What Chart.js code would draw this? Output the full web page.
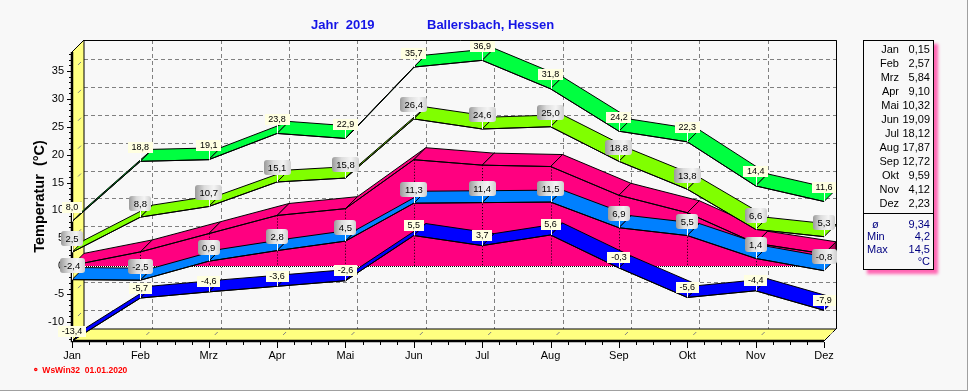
<!DOCTYPE html>
<html><head><meta charset="utf-8">
<script src="https://cdn.jsdelivr.net/npm/chart.js@4/dist/chart.umd.min.js"></script>
<style>
html,body{margin:0;padding:0;background:#f8f8f8;}
#wrap{position:relative;width:968px;height:391px;overflow:hidden;font-family:"Liberation Sans",Arial,sans-serif;}
#frame{position:absolute;left:0;top:0;width:968px;height:391px;box-sizing:border-box;border-right:1px solid #a0a0a0;border-bottom:1px solid #a0a0a0;pointer-events:none;}
canvas{position:absolute;left:0;top:0;}
.title{position:absolute;top:17px;font:bold 13px "Liberation Sans",Arial,sans-serif;color:#1414e6;white-space:pre;line-height:15px;}
#legend{position:absolute;left:863px;top:40px;width:71px;height:230px;box-sizing:border-box;border:1px solid #000;background:#f8f8f8;box-shadow:4px 4px 3px #ff66b3;font:11px "Liberation Sans",Arial,sans-serif;}
#legend .row{position:absolute;left:0;width:69px;height:14px;line-height:14px;color:#000;}
#legend .row span{position:absolute;top:0;white-space:pre;}
#legend .nrow{position:absolute;left:0;width:69px;height:12px;line-height:12px;color:#000080;}
#legend .nrow span{position:absolute;top:0;white-space:pre;}
#legend .div{position:absolute;left:0;width:69px;top:172px;border-top:1px solid #000;}
#foot{position:absolute;left:32px;top:365px;font:bold 8.5px "Liberation Sans",Arial,sans-serif;color:#ff0000;white-space:pre;line-height:11px;}
</style></head>
<body>
<div id="wrap">
<canvas id="c" width="968" height="391"></canvas>
<div class="title" style="left:311px">Jahr  2019</div>
<div class="title" style="left:427px">Ballersbach, Hessen</div>
<div id="legend"></div>
<div id="foot">&#9900; WsWin32  01.01.2020</div>
<div id="frame"></div>
</div>
<script>
// ---- data ----
const months   = ['Jan','Feb','Mrz','Apr','Mai','Jun','Jul','Aug','Sep','Okt','Nov','Dez'];
const meanTemp = [0.15, 2.57, 5.84, 9.10, 10.32, 19.09, 18.12, 17.87, 12.72, 9.59, 4.12, 2.23];
const absMax   = [8.0, 18.8, 19.1, 23.8, 22.9, 35.7, 36.9, 31.8, 24.2, 22.3, 14.4, 11.6];
const meanMax  = [2.5, 8.8, 10.7, 15.1, 15.8, 26.4, 24.6, 25.0, 18.8, 13.8, 6.6, 5.3];
const meanMin  = [-2.4, -2.5, 0.9, 2.8, 4.5, 11.3, 11.4, 11.5, 6.9, 5.5, 1.4, -0.8];
const absMin   = [-13.4, -5.7, -4.6, -3.6, -2.6, 5.5, 3.7, 5.6, -0.3, -5.6, -4.4, -7.9];
const yTicks   = [-10, -5, 0, 5, 10, 15, 20, 25, 30, 35];
const yearStats = [['ø', '9,34'], ['Min', '4,2'], ['Max', '14,5']];
const unitLabel = '°C';

// ---- legend box ----
const fmt2 = v => v.toFixed(2).replace('.', ',');
const fmt1 = v => v.toFixed(1).replace('.', ',');
(function(){
  const lg = document.getElementById('legend');
  let h = '';
  months.forEach((m, i) => {
    h += `<div class="row" style="top:${1 + 14*i}px"><span style="right:34px">${m}</span><span style="right:3px">${fmt2(meanTemp[i])}</span></div>`;
  });
  h += '<div class="div"></div>';
  yearStats.forEach((s, i) => {
    const left = i === 0 ? 8 : 3;
    h += `<div class="nrow" style="top:${177 + 12.3*i}px"><span style="left:${left}px">${s[0]}</span><span style="right:3px">${s[1]}</span></div>`;
  });
  h += `<div class="nrow" style="top:214px"><span style="right:3px">${unitLabel}</span></div>`;
  lg.innerHTML = h;
})();

// ---- chart ----
const D = 12; // 3D depth offset
const styles = [
  {color:'#ff0080', area:true},
  {color:'#00ff40', label:'cream', off:14},
  {color:'#80ff00', label:'gray',  off:14},
  {color:'#0080ff', label:'gray',  off:14},
  {color:'#0000ff', label:'cream', off:10}
];
Chart.defaults.font.family = '"Liberation Sans", Arial, sans-serif';

function ribbon(ctx, pts, color){
  for (let i = 0; i < pts.length - 1; i++){
    const a = pts[i], b = pts[i+1];
    ctx.beginPath();
    ctx.moveTo(a.x, a.y); ctx.lineTo(b.x, b.y);
    ctx.lineTo(b.x + D, b.y - D); ctx.lineTo(a.x + D, a.y - D);
    ctx.closePath();
    ctx.fillStyle = color; ctx.fill();
    ctx.strokeStyle = '#000'; ctx.lineWidth = 1; ctx.stroke();
  }
}

const wallsPlugin = {
  id: 'walls',
  beforeDraw(chart){
    const {ctx, chartArea: a, scales: {x, y}} = chart;
    ctx.save();
    ctx.fillStyle = '#f8f8f8'; ctx.fillRect(0, 0, chart.width, chart.height);
    const L = a.left + D, T = a.top - D, R = a.right + D, B = a.bottom - D;
    ctx.lineWidth = 1;
    ctx.strokeStyle = '#808080'; ctx.setLineDash([4, 3]);
    yTicks.forEach(v => {
      const py = Math.round(y.getPixelForValue(v) - D) + 0.5;
      ctx.beginPath(); ctx.moveTo(L, py); ctx.lineTo(R, py); ctx.stroke();
    });
    months.forEach((m, i) => {
      if (i === 0) return;
      const px = Math.round(x.getPixelForValue(i) + D) + 0.5;
      ctx.beginPath(); ctx.moveTo(px, T); ctx.lineTo(px, B); ctx.stroke();
    });
    ctx.setLineDash([]);
    ctx.strokeStyle = '#000';
    ctx.beginPath(); ctx.moveTo(L, T + 0.5); ctx.lineTo(R + 0.5, T + 0.5); ctx.lineTo(R + 0.5, B); ctx.stroke();
    ctx.fillStyle = '#ffff80';
    ctx.beginPath(); ctx.moveTo(a.left, a.top); ctx.lineTo(L, T); ctx.lineTo(L, B); ctx.lineTo(a.left, a.bottom); ctx.closePath(); ctx.fill(); ctx.stroke();
    ctx.beginPath(); ctx.moveTo(a.left, a.bottom); ctx.lineTo(L, B); ctx.lineTo(R, B); ctx.lineTo(a.right, a.bottom); ctx.closePath(); ctx.fill(); ctx.stroke();
    ctx.strokeStyle = '#808080';
    yTicks.forEach(v => {
      const py = y.getPixelForValue(v);
      ctx.beginPath(); ctx.moveTo(a.left + 6, py - 6); ctx.lineTo(a.left + 9, py - 9); ctx.stroke();
    });
    months.forEach((m, i) => {
      const px = x.getPixelForValue(i);
      ctx.beginPath(); ctx.moveTo(px + 6, a.bottom - 6); ctx.lineTo(px + 9, a.bottom - 9); ctx.stroke();
    });
    ctx.strokeStyle = '#000'; ctx.lineWidth = 2.5;
    ctx.beginPath(); ctx.moveTo(a.left, a.top); ctx.lineTo(a.left, a.bottom); ctx.lineTo(a.right, a.bottom); ctx.stroke();
    ctx.lineWidth = 1;
    for (let v = Math.ceil(y.min); v <= Math.floor(y.max); v++){
      const py = Math.round(y.getPixelForValue(v)) + 0.5, len = v % 5 === 0 ? 4 : 2;
      ctx.beginPath(); ctx.moveTo(a.left - 1 - len, py); ctx.lineTo(a.left - 1, py); ctx.stroke();
    }
    for (let q = 0; q <= (months.length - 1) * 4; q++){
      const px = Math.round(x.getPixelForValue(q / 4)) + 0.5, len = q % 4 === 0 ? 6 : 3;
      ctx.beginPath(); ctx.moveTo(px, a.bottom + 1); ctx.lineTo(px, a.bottom + 1 + len); ctx.stroke();
    }
    ctx.restore();
  }
};

const ribbonPlugin = {
  id: 'ribbons',
  beforeDatasetDraw(chart, args){
    const st = styles[args.index], ctx = chart.ctx;
    const pts = args.meta.data.map(p => ({x: p.x, y: p.y}));
    ctx.save();
    if (st.area){
      const y0 = chart.scales.y.getPixelForValue(0);
      const n = pts.length - 1;
      ctx.beginPath();
      ctx.moveTo(pts[0].x, y0);
      pts.forEach(p => ctx.lineTo(p.x, p.y));
      ctx.lineTo(pts[n].x, y0); ctx.closePath();
      ctx.fillStyle = st.color; ctx.fill();
      // right side face
      ctx.beginPath();
      ctx.moveTo(pts[n].x, pts[n].y); ctx.lineTo(pts[n].x + D, pts[n].y - D);
      ctx.lineTo(pts[n].x + D, y0 - D); ctx.lineTo(pts[n].x, y0); ctx.closePath();
      ctx.fillStyle = '#b00058'; ctx.fill(); ctx.strokeStyle = '#000'; ctx.lineWidth = 1; ctx.stroke();
      ribbon(ctx, pts, st.color);
      ctx.strokeStyle = '#000'; ctx.setLineDash([1, 2]);
      pts.forEach(p => {
        const px = Math.round(p.x) + 0.5;
        ctx.beginPath(); ctx.moveTo(px, p.y); ctx.lineTo(px, y0); ctx.stroke();
      });
      ctx.setLineDash([]);
      const yb = Math.round(y0) + 0.5;
      ctx.strokeStyle = '#fff';
      ctx.beginPath(); ctx.moveTo(pts[0].x, yb); ctx.lineTo(pts[n].x, yb); ctx.stroke();
      ctx.strokeStyle = '#000'; ctx.setLineDash([1, 1]);
      ctx.beginPath(); ctx.moveTo(pts[0].x, yb); ctx.lineTo(pts[n].x, yb); ctx.stroke();
      ctx.setLineDash([]);
    } else {
      ribbon(ctx, pts, st.color);
    }
    ctx.restore();
  },
  afterDatasetsDraw(chart){
    const ctx = chart.ctx;
    ctx.save();
    chart.data.datasets.forEach((ds, i) => {
      const st = styles[i];
      if (!st.label) return;
      const gray = st.label === 'gray';
      chart.getDatasetMeta(i).data.forEach((p, j) => {
        const t = fmt1(ds.data[j]);
        ctx.font = (gray ? '9.5px' : '9px') + ' "Liberation Sans", Arial, sans-serif';
        const w = ctx.measureText(t).width;
        const bw = Math.round(w + (gray ? 9 : 7)), bh = gray ? 15 : 11;
        const cy = p.y - st.off;
        const bx = Math.round(p.x - bw / 2), by = Math.round(cy - bh / 2);
        const sx = Math.round(p.x) + 0.5;
        ctx.strokeStyle = '#fff'; ctx.lineWidth = 1;
        ctx.beginPath(); ctx.moveTo(sx, by + bh); ctx.lineTo(sx, p.y); ctx.stroke();
        if (gray){
          const g = ctx.createLinearGradient(bx, 0, bx + bw, 0);
          g.addColorStop(0, '#9a9a9a'); g.addColorStop(0.35, '#dcdcdc');
          g.addColorStop(0.7, '#f4f4f4'); g.addColorStop(1, '#cfcfcf');
          ctx.fillStyle = g;
          ctx.beginPath(); ctx.roundRect(bx, by, bw, bh, 3); ctx.fill();
        } else {
          ctx.fillStyle = '#ffffe1';
          ctx.fillRect(bx, by, bw, bh);
        }
        ctx.fillStyle = '#000'; ctx.textAlign = 'center'; ctx.textBaseline = 'middle';
        ctx.fillText(t, p.x, by + bh / 2 + 0.5);
      });
    });
    ctx.restore();
  }
};

const mk = (label, data, order) => ({label, data, order, borderColor:'#000', borderWidth:1, pointRadius:0, pointHoverRadius:0, fill:false, tension:0});

new Chart(document.getElementById('c'), {
  type: 'line',
  data: {
    labels: months,
    datasets: [
      mk('Mittel', meanTemp, 5),
      mk('Abs. Max', absMax, 4),
      mk('Mittl. Max', meanMax, 3),
      mk('Mittl. Min', meanMin, 2),
      mk('Abs. Min', absMin, 1)
    ]
  },
  options: {
    responsive: false,
    animation: false,
    devicePixelRatio: 1,
    events: [],
    layout: {padding: {top: 52, right: 144, left: 0, bottom: 0}},
    plugins: {legend: {display: false}, tooltip: {enabled: false}},
    scales: {
      x: {
        type: 'category', offset: false,
        grid: {display: false, drawTicks: false}, border: {display: false},
        ticks: {color: '#000', font: {size: 11}, padding: 8, maxRotation: 0, autoSkip: false},
        afterFit: s => { s.height = 50; }
      },
      y: {
        min: -13.4, max: 38.4,
        grid: {display: false, drawTicks: false}, border: {display: false},
        ticks: {color: '#000', font: {size: 11}, padding: 8},
        afterBuildTicks: s => { s.ticks = yTicks.map(v => ({value: v})); },
        title: {display: true, text: 'Temperatur  (°C)', color: '#000', font: {size: 14.5, weight: 'bold'}, padding: {top: 31, bottom: 0}},
        afterFit: s => { s.width = 72; }
      }
    }
  },
  plugins: [wallsPlugin, ribbonPlugin]
});
</script>
</body></html>
